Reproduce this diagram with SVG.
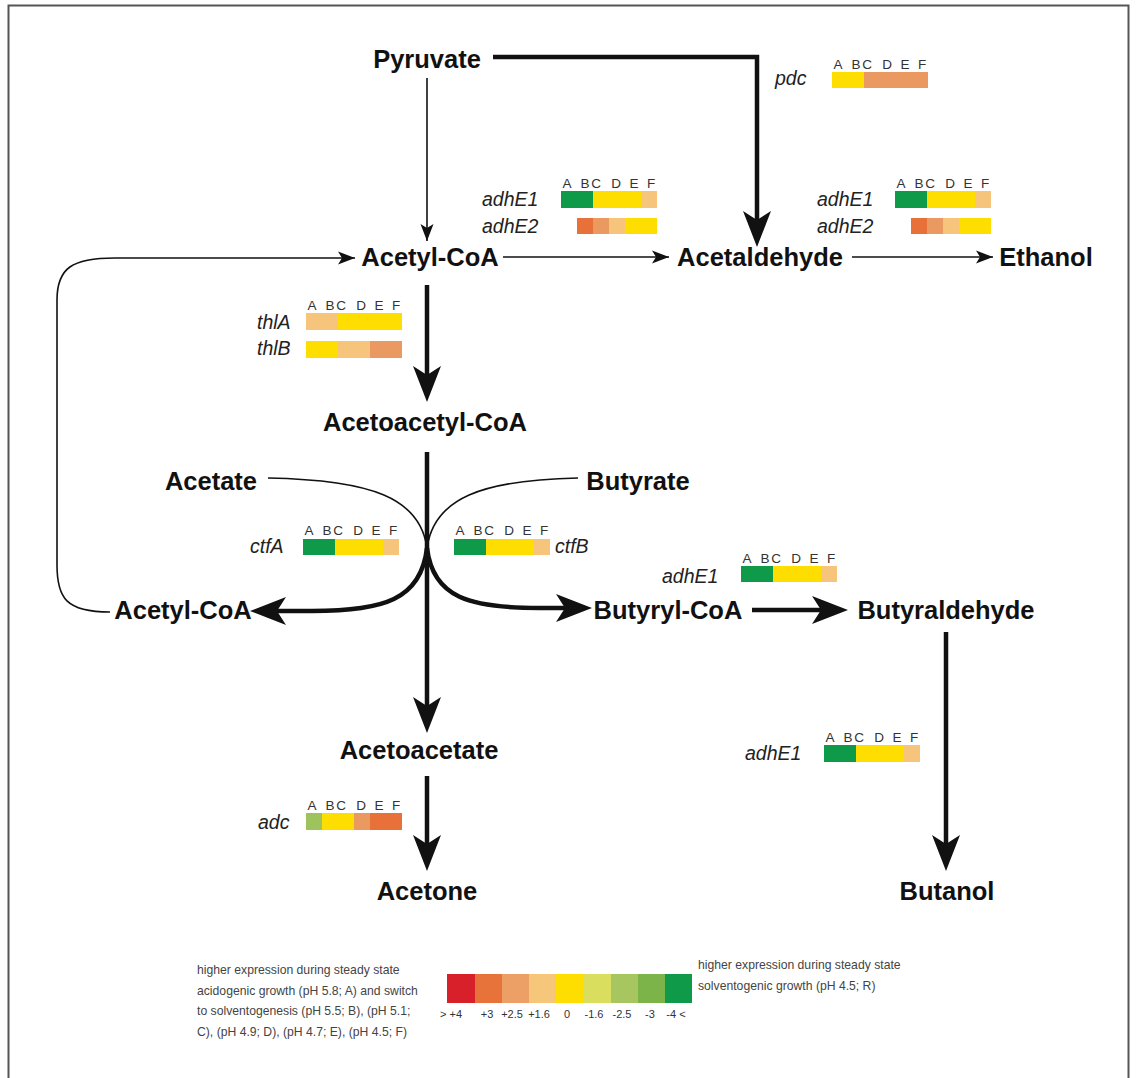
<svg xmlns="http://www.w3.org/2000/svg" width="1139" height="1078" viewBox="0 0 1139 1078">
<style>
.node{font-family:"Liberation Sans",Arial,sans-serif;font-weight:bold;font-size:25.5px;fill:#111;text-anchor:middle}
.gene{font-family:"Liberation Sans",Arial,sans-serif;font-style:italic;font-size:19.5px;fill:#222}
.abc{font-family:"Liberation Sans",Arial,sans-serif;font-size:13.5px;fill:#333;text-anchor:middle}
.leg{font-family:"Liberation Sans",Arial,sans-serif;font-size:12.2px;fill:#444}
.legn{font-family:"Liberation Sans",Arial,sans-serif;font-size:11px;fill:#333;text-anchor:middle}
.thin{fill:none;stroke:#111;stroke-width:1.6}
.thick{fill:none;stroke:#111;stroke-width:4.5}
.g{fill:#0E9A48}.y{fill:#FEDD00}.lo{fill:#F6C47A}.o{fill:#EA9A60}.do{fill:#E8713A}.lg{fill:#9DC35C}
</style>
<defs>
<marker id="big" viewBox="-40 -20 45 40" refX="-10" refY="0" markerWidth="45" markerHeight="40" markerUnits="userSpaceOnUse" orient="auto">
<path d="M0,0 L-36,-14 L-27,0 L-36,14 Z" fill="#111"/>
</marker>
<marker id="small" viewBox="-20 -10 22 20" refX="0" refY="0" markerWidth="22" markerHeight="20" markerUnits="userSpaceOnUse" orient="auto">
<path d="M0,0 L-17,-6.5 L-13,0 L-17,6.5 Z" fill="#111"/>
</marker>
</defs>
<rect x="0" y="0" width="1139" height="1078" fill="#fff"/>
<rect x="8.5" y="5.5" width="1120" height="1090" fill="none" stroke="#555" stroke-width="2"/>

<g id="connectors">
<path class="thin" d="M427,78 L427,241" marker-end="url(#small)"/>
<path class="thick" d="M493,57 L757,57 L757,237" marker-end="url(#big)"/>
<path class="thin" d="M503,257 L669,257" marker-end="url(#small)"/>
<path class="thin" d="M852,257 L993,257" marker-end="url(#small)"/>
<path class="thin" d="M110,612 C66,612 57,598 57,565 L57,300 C57,268 72,258 115,258 L355,258" marker-end="url(#small)"/>
<path class="thick" d="M427,285 L427,392" marker-end="url(#big)"/>
<path class="thick" d="M427,452 L427,723" marker-end="url(#big)"/>
<path class="thin" d="M268,478 C372,480 420,498 427,548"/>
<path class="thin" d="M578,478 C482,480 434,498 427,548"/>
<path class="thick" d="M427,548 C433,598 470,608 540,608 L582,608" marker-end="url(#big)"/>
<path class="thick" d="M427,548 C421,600 383,611 312,611 L260,611" marker-end="url(#big)"/>
<path class="thick" d="M427,776 L427,861" marker-end="url(#big)"/>
<path class="thick" d="M752,610 L838,610" marker-end="url(#big)"/>
<path class="thick" d="M946,632 L946,861" marker-end="url(#big)"/>
</g>

<g id="n-pyruvate"><text class="node" x="427" y="68">Pyruvate</text></g>
<g id="n-acetylcoa"><text class="node" x="430" y="266">Acetyl-CoA</text></g>
<g id="n-acetaldehyde"><text class="node" x="760" y="266">Acetaldehyde</text></g>
<g id="n-ethanol"><text class="node" x="1046" y="266">Ethanol</text></g>
<g id="n-acetoacetylcoa"><text class="node" x="425" y="431">Acetoacetyl-CoA</text></g>
<g id="n-acetate"><text class="node" x="211" y="490">Acetate</text></g>
<g id="n-butyrate"><text class="node" x="638" y="490">Butyrate</text></g>
<g id="n-acetylcoa2"><text class="node" x="183" y="619">Acetyl-CoA</text></g>
<g id="n-butyrylcoa"><text class="node" x="668" y="619">Butyryl-CoA</text></g>
<g id="n-butyraldehyde"><text class="node" x="946" y="619">Butyraldehyde</text></g>
<g id="n-acetoacetate"><text class="node" x="419" y="759">Acetoacetate</text></g>
<g id="n-acetone"><text class="node" x="427" y="900">Acetone</text></g>
<g id="n-butanol"><text class="node" x="947" y="900">Butanol</text></g>

<g id="gene-pdc">
<text class="gene" x="775" y="85">pdc</text>
<text class="abc" x="838 856 867 887 905 922" y="69">ABCDEF</text>
<rect class="y" x="832" y="72" width="32" height="16"/><rect class="o" x="864" y="72" width="64" height="16"/>
</g>
<g id="gene-adhE1-a">
<text class="gene" x="482" y="206">adhE1</text>
<text class="abc" x="567 585 596 616 634 651" y="188">ABCDEF</text>
<rect class="g" x="561" y="191" width="32" height="17"/><rect class="y" x="593" y="191" width="48" height="17"/><rect class="lo" x="641" y="191" width="16" height="17"/>
</g>
<g id="gene-adhE2-a">
<text class="gene" x="482" y="233">adhE2</text>
<rect class="do" x="577" y="218" width="16" height="16"/><rect class="o" x="593" y="218" width="16" height="16"/><rect class="lo" x="609" y="218" width="16" height="16"/><rect class="y" x="625" y="218" width="32" height="16"/>
</g>
<g id="gene-adhE1-b">
<text class="gene" x="817" y="206">adhE1</text>
<text class="abc" x="901 919 930 950 968 985" y="188">ABCDEF</text>
<rect class="g" x="895" y="191" width="32" height="17"/><rect class="y" x="927" y="191" width="48" height="17"/><rect class="lo" x="975" y="191" width="16" height="17"/>
</g>
<g id="gene-adhE2-b">
<text class="gene" x="817" y="233">adhE2</text>
<rect class="do" x="911" y="218" width="16" height="16"/><rect class="o" x="927" y="218" width="16" height="16"/><rect class="lo" x="943" y="218" width="16" height="16"/><rect class="y" x="959" y="218" width="32" height="16"/>
</g>
<g id="gene-thlA">
<text class="gene" x="257" y="329">thlA</text>
<text class="abc" x="312 330 341 361 379 396" y="310">ABCDEF</text>
<rect class="lo" x="306" y="313" width="32" height="17"/><rect class="y" x="338" y="313" width="64" height="17"/>
</g>
<g id="gene-thlB">
<text class="gene" x="257" y="355">thlB</text>
<rect class="y" x="306" y="341" width="32" height="17"/><rect class="lo" x="338" y="341" width="32" height="17"/><rect class="o" x="370" y="341" width="32" height="17"/>
</g>
<g id="gene-ctfA">
<text class="gene" x="250" y="553">ctfA</text>
<text class="abc" x="309 327 338 358 376 393" y="535">ABCDEF</text>
<rect class="g" x="303" y="539" width="32" height="16"/><rect class="y" x="335" y="539" width="48" height="16"/><rect class="lo" x="383" y="539" width="16" height="16"/>
</g>
<g id="gene-ctfB">
<text class="gene" x="555" y="553">ctfB</text>
<text class="abc" x="460 478 489 509 527 544" y="535">ABCDEF</text>
<rect class="g" x="454" y="539" width="32" height="16"/><rect class="y" x="486" y="539" width="48" height="16"/><rect class="lo" x="534" y="539" width="16" height="16"/>
</g>
<g id="gene-adhE1-c">
<text class="gene" x="662" y="583">adhE1</text>
<text class="abc" x="747 765 776 796 814 831" y="563">ABCDEF</text>
<rect class="g" x="741" y="566" width="32" height="16"/><rect class="y" x="773" y="566" width="48" height="16"/><rect class="lo" x="821" y="566" width="16" height="16"/>
</g>
<g id="gene-adhE1-d">
<text class="gene" x="745" y="760">adhE1</text>
<text class="abc" x="830 848 859 879 897 914" y="742">ABCDEF</text>
<rect class="g" x="824" y="745" width="32" height="17"/><rect class="y" x="856" y="745" width="48" height="17"/><rect class="lo" x="904" y="745" width="16" height="17"/>
</g>
<g id="gene-adc">
<text class="gene" x="258" y="829">adc</text>
<text class="abc" x="312 330 341 361 379 396" y="810">ABCDEF</text>
<rect class="lg" x="306" y="813" width="16" height="17"/><rect class="y" x="322" y="813" width="32" height="17"/><rect class="o" x="354" y="813" width="16" height="17"/><rect class="do" x="370" y="813" width="32" height="17"/>
</g>

<g id="legend">
<text class="leg" x="197" y="974">higher expression during steady state</text>
<text class="leg" x="197" y="995">acidogenic growth (pH 5.8; A) and switch</text>
<text class="leg" x="197" y="1015">to solventogenesis (pH 5.5; B), (pH 5.1;</text>
<text class="leg" x="197" y="1036">C), (pH 4.9; D), (pH 4.7; E), (pH 4.5; F)</text>
<rect x="447" y="974" width="28" height="29" fill="#D8202A"/>
<rect x="475" y="974" width="27" height="29" fill="#E8733A"/>
<rect x="502" y="974" width="27" height="29" fill="#ECA066"/>
<rect x="529" y="974" width="27" height="29" fill="#F6C67A"/>
<rect x="556" y="974" width="28" height="29" fill="#FEDD00"/>
<rect x="584" y="974" width="27" height="29" fill="#D9DE5F"/>
<rect x="611" y="974" width="27" height="29" fill="#A8C660"/>
<rect x="638" y="974" width="27" height="29" fill="#7DB44A"/>
<rect x="665" y="974" width="27" height="29" fill="#0E9A48"/>
<text class="legn" x="451" y="1018">&gt; +4</text>
<text class="legn" x="487" y="1018">+3</text>
<text class="legn" x="512" y="1018">+2.5</text>
<text class="legn" x="539" y="1018">+1.6</text>
<text class="legn" x="567" y="1018">0</text>
<text class="legn" x="594" y="1018">-1.6</text>
<text class="legn" x="622" y="1018">-2.5</text>
<text class="legn" x="650" y="1018">-3</text>
<text class="legn" x="676" y="1018">-4 &lt;</text>
<text class="leg" x="698" y="969">higher expression during steady state</text>
<text class="leg" x="698" y="990">solventogenic growth (pH 4.5; R)</text>
</g>
</svg>
